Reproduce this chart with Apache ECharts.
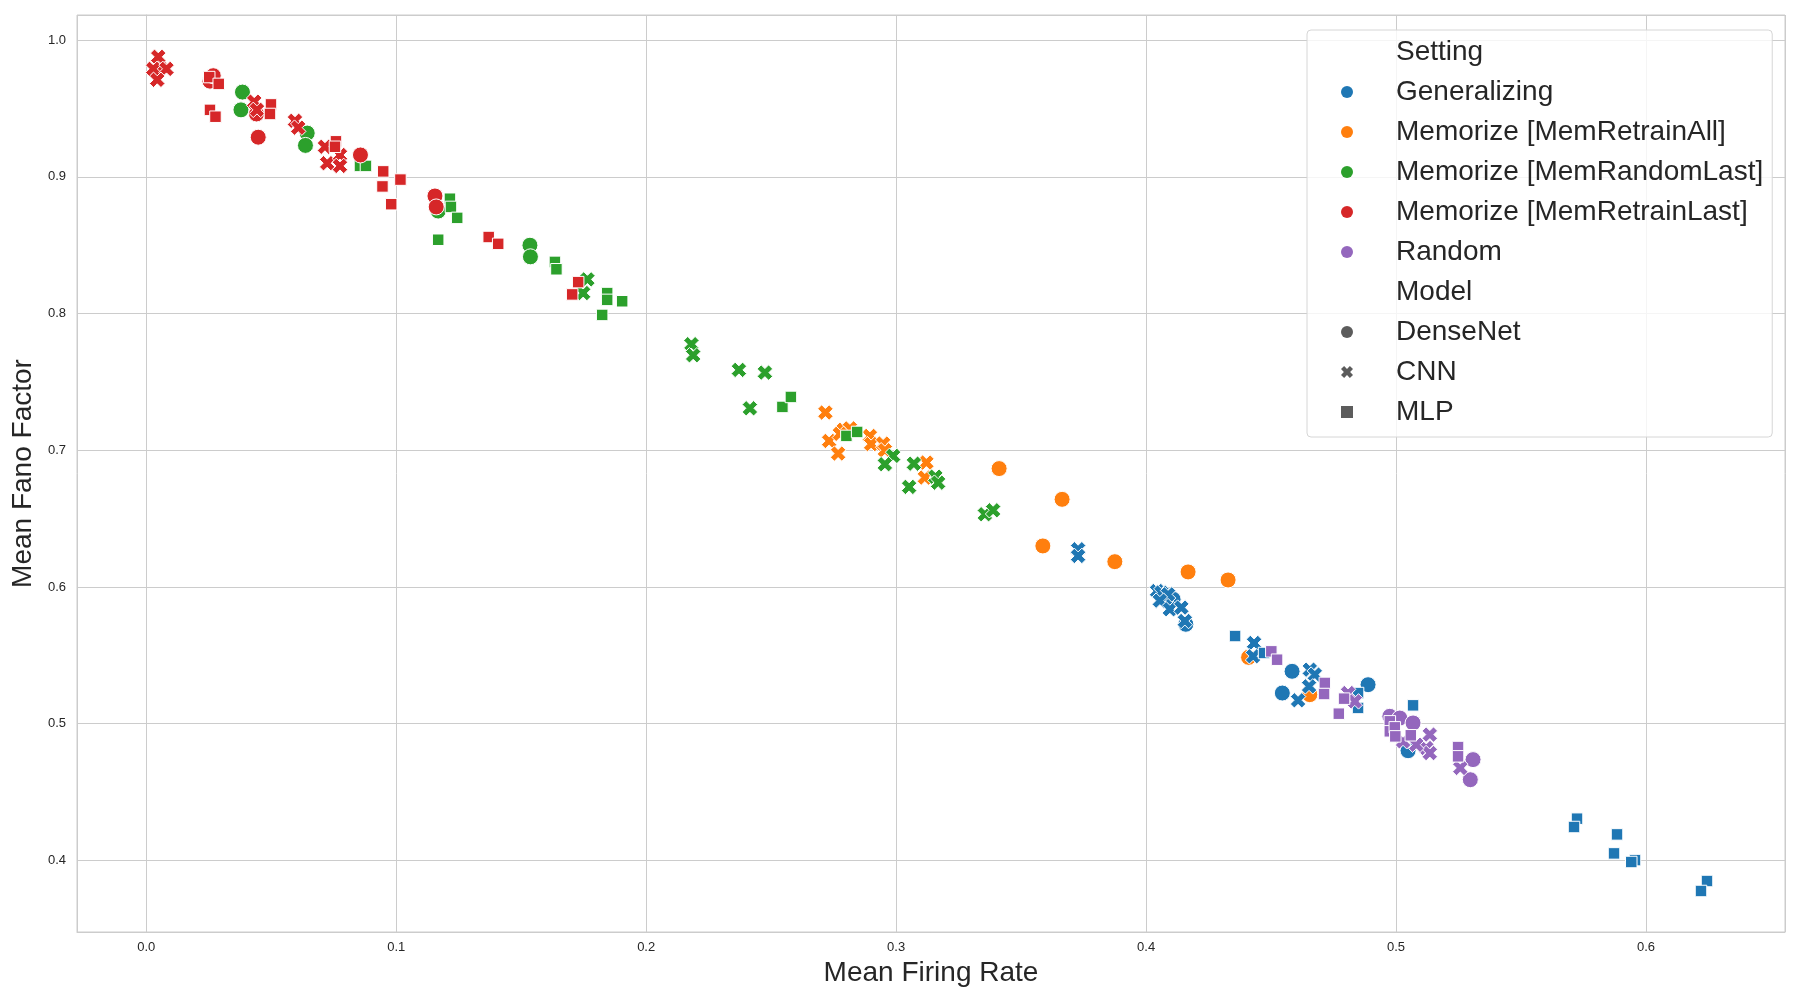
<!DOCTYPE html>
<html>
<head>
<meta charset="utf-8">
<script src="https://cdn.jsdelivr.net/npm/echarts@6/dist/echarts.min.js"></script>
<style>
html,body{margin:0;padding:0;background:#fff;}
#chart{width:1800px;height:1000px;}
</style>
</head>
<body>
<div id="chart"></div>
<script>
// ---- Data (Mean Firing Rate, Mean Fano Factor) ----
const settings = ["Generalizing", "Memorize [MemRetrainAll]", "Memorize [MemRandomLast]", "Memorize [MemRetrainLast]", "Random"];
const models = ["DenseNet", "CNN", "MLP"];
const settingColors = ["#1f77b4", "#ff7f0e", "#2ca02c", "#d62728", "#9467bd"];

const genDense = [[0.4108,0.591],[0.4159,0.5727],[0.4584,0.5383],[0.4545,0.5224],[0.4888,0.5285],[0.5048,0.4802]];
const genCNN = [[0.3728,0.6276],[0.3728,0.6227],[0.4044,0.597],[0.4061,0.5959],[0.4088,0.5946],[0.4055,0.59],[0.4095,0.5837],[0.4141,0.5849],[0.4155,0.5751],[0.4432,0.559],[0.4428,0.5493],[0.4655,0.5395],[0.4675,0.5359],[0.4652,0.5273],[0.4608,0.5171]];
const genMLP = [[0.4356,0.5641],[0.4472,0.5517],[0.4848,0.5115],[0.4848,0.5224],[0.5068,0.5134],[0.5724,0.4305],[0.5712,0.4244],[0.5884,0.4190],[0.5872,0.4051],[0.5956,0.4002],[0.5941,0.3988],[0.6244,0.3849],[0.622,0.3776]];

const allDense = [[0.3412,0.6866],[0.3664,0.6641],[0.3587,0.6300],[0.3875,0.6185],[0.4168,0.6110],[0.4328,0.6051],[0.4410,0.5485],[0.4655,0.5212]];
const allCNN = [[0.2717,0.7276],[0.2732,0.7068],[0.2768,0.6976],[0.279,0.715],[0.2815,0.716],[0.2775,0.712],[0.2895,0.7105],[0.2900,0.7045],[0.2948,0.7049],[0.2955,0.700],[0.3121,0.691],[0.3115,0.680]];
const allMLP = [];

const rndLastDense = [[0.0385,0.962],[0.0379,0.949],[0.0644,0.932],[0.0637,0.923],[0.1168,0.875],[0.1535,0.850],[0.1537,0.8415]];
const rndLastCNN = [[0.1765,0.825],[0.1748,0.815],[0.2181,0.7776],[0.2188,0.7695],[0.2371,0.7588],[0.2475,0.7568],[0.2415,0.7307],[0.2988,0.6959],[0.2955,0.6898],[0.3071,0.6902],[0.3052,0.6732],[0.3157,0.6807],[0.3168,0.6763],[0.3355,0.6532],[0.3388,0.6561]];
const rndLastMLP = [[0.0855,0.908],[0.0879,0.908],[0.1215,0.884],[0.1219,0.878],[0.1244,0.870],[0.1168,0.854],[0.1635,0.8378],[0.1641,0.8324],[0.1844,0.815],[0.1844,0.810],[0.1904,0.809],[0.1824,0.799],[0.2545,0.7317],[0.2579,0.739],[0.2801,0.7105],[0.2844,0.7134]];

const retLastDense = [[0.0055,0.980],[0.0255,0.970],[0.0268,0.974],[0.0441,0.946],[0.0448,0.929],[0.0857,0.916],[0.1155,0.886],[0.116,0.878]];
const retLastCNN = [[0.0048,0.9878],[0.0028,0.979],[0.0081,0.979],[0.0044,0.971],[0.0432,0.955],[0.0443,0.949],[0.0595,0.941],[0.0608,0.936],[0.0715,0.922],[0.0724,0.910],[0.0775,0.916],[0.0775,0.908]];
const retLastMLP = [[0.0252,0.973],[0.029,0.968],[0.0255,0.949],[0.0277,0.944],[0.0499,0.953],[0.0495,0.946],[0.0759,0.926],[0.0755,0.922],[0.0948,0.904],[0.0945,0.893],[0.1017,0.898],[0.098,0.880],[0.137,0.856],[0.1408,0.851],[0.1728,0.823],[0.1704,0.814]];

const randDense = [[0.4975,0.5054],[0.5015,0.5041],[0.5068,0.5005],[0.5308,0.4737],[0.5297,0.459]];
const randCNN = [[0.4808,0.5224],[0.4835,0.5163],[0.5135,0.4920],[0.5121,0.4822],[0.5135,0.4785],[0.5081,0.4846],[0.5028,0.4871],[0.5257,0.4676]];
const randMLP = [[0.4501,0.5529],[0.4524,0.5468],[0.4715,0.5298],[0.4712,0.5217],[0.4792,0.5183],[0.4771,0.5073],[0.4975,0.5017],[0.4975,0.4944],[0.4995,0.4973],[0.4997,0.4907],[0.5059,0.4915],[0.5248,0.4829],[0.5248,0.4761]];

const xTicks = ["0.0","0.1","0.2","0.3","0.4","0.5","0.6"];
const yTicks = ["0.4","0.5","0.6","0.7","0.8","0.9","1.0"];

// data grouped by setting index -> [dense, cnn, mlp]
const dataBySetting = [
  [genDense, genCNN, genMLP],
  [allDense, allCNN, allMLP],
  [rndLastDense, rndLastCNN, rndLastMLP],
  [retLastDense, retLastCNN, retLastMLP],
  [randDense, randCNN, randMLP]
];
// drawing order (later on top)
const drawOrder = [1, 2, 3, 0, 4];

const XPATH = 'path://M0,2.6 L2.6,0 L5,2.4 L7.4,0 L10,2.6 L7.6,5 L10,7.4 L7.4,10 L5,7.6 L2.6,10 L0,7.4 L2.4,5 Z';
const modelSymbols = ['circle', XPATH, 'rect'];
const modelSizes = [16, 15.5, 11.5];
const FONT = 'Liberation Sans, Arial, sans-serif';
const TXT = '#262626';

const series = [];
drawOrder.forEach(si => {
  models.forEach((m, mi) => {
    series.push({
      type: 'scatter',
      name: settings[si],
      data: dataBySetting[si][mi],
      symbol: modelSymbols[mi],
      symbolSize: modelSizes[mi],
      itemStyle: { color: settingColors[si], borderColor: '#ffffff', borderWidth: 1, opacity: 1 },
      emphasis: { disabled: true }
    });
  });
});
['Setting', 'Model'].concat(models).forEach(n => {
  series.push({ type: 'scatter', name: n, data: [], itemStyle: { color: '#333333' } });
});

const legendData = [{ name: 'Setting', icon: 'circle', itemStyle: { color: 'rgba(0,0,0,0)', borderWidth: 0, opacity: 0 } }];
settings.forEach((s, i) => legendData.push({ name: s, icon: 'circle', itemStyle: { color: settingColors[i], borderWidth: 0 } }));
legendData.push({ name: 'Model', icon: 'circle', itemStyle: { color: 'rgba(0,0,0,0)', borderWidth: 0, opacity: 0 } });
legendData.push({ name: 'DenseNet', icon: 'circle', itemStyle: { color: '#333333', borderWidth: 0 } });
legendData.push({ name: 'CNN', icon: XPATH, itemStyle: { color: '#333333', borderWidth: 0 } });
legendData.push({ name: 'MLP', icon: 'rect', itemStyle: { color: '#333333', borderWidth: 0 } });

function tickFmt(list) {
  return function (v) {
    const s = v.toFixed(1);
    return (Math.abs(v * 10 - Math.round(v * 10)) < 1e-6 && list.indexOf(s) >= 0) ? s : '';
  };
}

const chart = echarts.init(document.getElementById('chart'), null, { renderer: 'canvas' });
chart.setOption({
  animation: false,
  backgroundColor: '#ffffff',
  grid: { left: 77, right: 15, top: 15, bottom: 68, show: true, borderColor: '#cccccc', borderWidth: 1, containLabel: false },
  xAxis: {
    type: 'value', min: -0.0277, max: 0.6556, splitNumber: 7,
    axisLine: { show: true, lineStyle: { color: '#cccccc', width: 1 } },
    axisTick: { show: false },
    splitLine: { show: true, lineStyle: { color: '#cccccc', width: 1 } },
    axisLabel: { formatter: tickFmt(xTicks), fontSize: 13, color: TXT, fontFamily: FONT, margin: 9 },
    name: 'Mean Firing Rate', nameLocation: 'middle', nameGap: 24,
    nameTextStyle: { fontSize: 28, color: TXT, fontFamily: FONT }
  },
  yAxis: {
    type: 'value', min: 0.3476, max: 1.0184, splitNumber: 7,
    axisLine: { show: true, lineStyle: { color: '#cccccc', width: 1 } },
    axisTick: { show: false },
    splitLine: { show: true, lineStyle: { color: '#cccccc', width: 1 } },
    axisLabel: { formatter: tickFmt(yTicks), fontSize: 13, color: TXT, fontFamily: FONT, margin: 11 },
    name: 'Mean Fano Factor', nameLocation: 'middle', nameGap: 37,
    nameTextStyle: { fontSize: 28, color: TXT, fontFamily: FONT }
  },
  legend: {
    left: 1307, top: 30, orient: 'vertical',
    padding: [7, 9, 10, 34],
    itemWidth: 12, itemHeight: 12, itemGap: 10,
    backgroundColor: 'rgba(255,255,255,0.8)',
    borderColor: '#d6d6d6', borderWidth: 1, borderRadius: 4,
    textStyle: { fontSize: 28, color: TXT, fontFamily: FONT, lineHeight: 30, padding: [0, 0, 0, 38] },
    data: legendData
  },
  series: series
});
</script>
</body>
</html>
